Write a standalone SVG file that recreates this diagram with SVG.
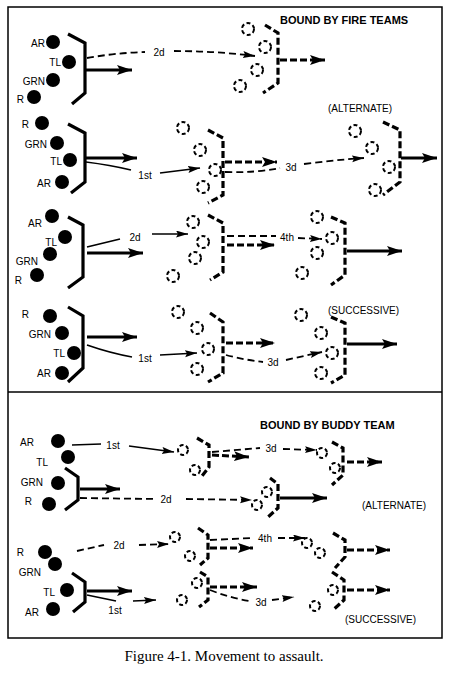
<svg xmlns="http://www.w3.org/2000/svg" width="450" height="682" viewBox="0 0 450 682">
<style>
text{font-family:"Liberation Sans",Arial,sans-serif;font-size:10px;fill:#000}
.lbl{text-anchor:end}
.c{text-anchor:middle}
.title{font-size:11px;font-weight:bold}
.cap{font-family:"Liberation Serif","Times New Roman",serif;font-size:15px;text-anchor:middle}
.dot{fill:#000}
.ghost{fill:none;stroke:#000;stroke-width:2;stroke-dasharray:4 2.5}
.br{fill:none;stroke:#000;stroke-width:3.2}
.brd{fill:none;stroke:#000;stroke-width:3.2;stroke-dasharray:7 3}
.ln{fill:none;stroke:#000;stroke-width:1.7}
.dl{fill:none;stroke:#000;stroke-width:1.8;stroke-dasharray:7 4}
.th{fill:none;stroke:#000;stroke-width:3}
.thd{fill:none;stroke:#000;stroke-width:3;stroke-dasharray:7 3}
.frame{fill:none;stroke:#000;stroke-width:1.5}
</style>
<defs>
<marker id="big" markerUnits="userSpaceOnUse" markerWidth="16" markerHeight="11" refX="15" refY="5" orient="auto"><path d="M0,0 L15,5 L0,10 L3,5 Z" fill="#000"/></marker>
<marker id="sm" markerUnits="userSpaceOnUse" markerWidth="13" markerHeight="9" refX="12" refY="3.5" orient="auto"><path d="M0,0 L12,3.5 L0,7 L2,3.5 Z" fill="#000"/></marker>
</defs>

<rect class="frame" x="8" y="7" width="434" height="631"/>
<line class="frame" x1="8" y1="392" x2="442" y2="392"/>
<text class="title" x="280" y="24">BOUND BY FIRE TEAMS</text>
<text x="328" y="112">(ALTERNATE)</text>
<text x="328" y="314">(SUCCESSIVE)</text>
<text class="title" x="260" y="429">BOUND BY BUDDY TEAM</text>
<text x="362" y="509">(ALTERNATE)</text>
<text x="345" y="623">(SUCCESSIVE)</text>
<text class="cap" x="224" y="661">Figure 4-1. Movement to assault.</text>

<!-- Fire teams row 1 -->
<g id="ft-r1-start">
<circle class="dot" cx="53" cy="42" r="7"/><text class="lbl" x="45" y="47">AR</text>
<circle class="dot" cx="69" cy="62" r="7"/><text class="lbl" x="61" y="66">TL</text>
<circle class="dot" cx="53" cy="80" r="7"/><text class="lbl" x="45" y="85">GRN</text>
<circle class="dot" cx="34" cy="97" r="7"/><text class="lbl" x="24" y="103">R</text>
<path class="br" d="M68,34 L85,43 L85,93 L72,104"/>
</g>
<g id="ft-r1-end">
<circle class="ghost" cx="248" cy="29" r="6"/><circle class="ghost" cx="265" cy="47" r="6"/>
<circle class="ghost" cx="257" cy="70" r="6"/><circle class="ghost" cx="240" cy="86" r="6"/>
<path class="brd" d="M265,25 L278,33 L278,83 L263,93"/>
</g>

<!-- Fire teams row 2 -->
<g id="ft-r2-start">
<circle class="dot" cx="42" cy="123" r="7"/><text class="lbl" x="29" y="128">R</text>
<circle class="dot" cx="57" cy="143" r="7"/><text class="lbl" x="47" y="148">GRN</text>
<circle class="dot" cx="70" cy="160" r="7"/><text class="lbl" x="62" y="165">TL</text>
<circle class="dot" cx="62" cy="182" r="7"/><text class="lbl" x="51" y="187">AR</text>
<path class="br" d="M68,124 L85,133 L85,182 L71,193"/>
</g>
<g id="ft-r2-mid">
<circle class="ghost" cx="183" cy="128" r="6"/><circle class="ghost" cx="200" cy="150" r="6"/>
<circle class="ghost" cx="215" cy="170" r="6"/><circle class="ghost" cx="203" cy="187" r="6"/>
<path class="brd" d="M208,130 L223,138 L223,195 L208,203"/>
</g>
<g id="ft-r2-end">
<circle class="ghost" cx="355" cy="131" r="6"/><circle class="ghost" cx="372" cy="148" r="6"/>
<circle class="ghost" cx="389" cy="167" r="6"/><circle class="ghost" cx="375" cy="190" r="6"/>
<path class="brd" d="M383,122 L400,130 L400,182 L383,195"/>
</g>

<!-- Fire teams row 3 -->
<g id="ft-r3-start">
<circle class="dot" cx="52" cy="216" r="7"/><text class="lbl" x="42" y="227">AR</text>
<circle class="dot" cx="65" cy="237" r="7"/><text class="lbl" x="57" y="246">TL</text>
<circle class="dot" cx="50" cy="254" r="7"/><text class="lbl" x="38" y="265">GRN</text>
<circle class="dot" cx="37" cy="275" r="7"/><text class="lbl" x="22" y="284">R</text>
<path class="br" d="M68,217 L83,225 L83,277 L68,288"/>
</g>
<g id="ft-r3-mid">
<circle class="ghost" cx="193" cy="222" r="6"/><circle class="ghost" cx="203" cy="242" r="6"/>
<circle class="ghost" cx="195" cy="258" r="6"/><circle class="ghost" cx="173" cy="276" r="6"/>
<path class="brd" d="M208,215 L223,223 L223,272 L210,280"/>
</g>
<g id="ft-r3-end">
<circle class="ghost" cx="317" cy="217" r="6"/><circle class="ghost" cx="332" cy="238" r="6"/>
<circle class="ghost" cx="317" cy="253" r="6"/><circle class="ghost" cx="302" cy="273" r="6"/>
<path class="brd" d="M331,217 L345,223 L345,275 L331,285"/>
</g>

<!-- Fire teams row 4 -->
<g id="ft-r4-start">
<circle class="dot" cx="50" cy="316" r="7"/><text class="lbl" x="29" y="318">R</text>
<circle class="dot" cx="62" cy="333" r="7"/><text class="lbl" x="51" y="338">GRN</text>
<circle class="dot" cx="74" cy="353" r="7"/><text class="lbl" x="65" y="357">TL</text>
<circle class="dot" cx="62" cy="373" r="7"/><text class="lbl" x="51" y="377">AR</text>
<path class="br" d="M68,307 L83,316 L83,368 L68,382"/>
</g>
<g id="ft-r4-mid">
<circle class="ghost" cx="178" cy="312" r="6"/><circle class="ghost" cx="197" cy="328" r="6"/>
<circle class="ghost" cx="208" cy="349" r="6"/><circle class="ghost" cx="197" cy="369" r="6"/>
<path class="brd" d="M210,313 L223,322 L223,373 L208,382"/>
</g>
<g id="ft-r4-end">
<circle class="ghost" cx="301" cy="315" r="6"/><circle class="ghost" cx="321" cy="333" r="6"/>
<circle class="ghost" cx="332" cy="353" r="6"/><circle class="ghost" cx="321" cy="373" r="6"/>
<path class="brd" d="M331,317 L345,323 L345,375 L331,383"/>
</g>

<!-- Buddy team row A -->
<g id="bt-a-start">
<circle class="dot" cx="58" cy="441" r="7"/><text class="lbl" x="34" y="446">AR</text>
<circle class="dot" cx="68" cy="457" r="7"/><text class="lbl" x="48" y="466">TL</text>
<circle class="dot" cx="58" cy="483" r="7"/><text class="lbl" x="43" y="486">GRN</text>
<circle class="dot" cx="49" cy="504" r="7"/><text class="lbl" x="32" y="505">R</text>
<path class="br" d="M65,468 L78,477 L78,500 L65,510"/>
</g>
<g id="bt-a-mid">
<circle class="ghost" cx="183" cy="450" r="5"/><circle class="ghost" cx="195" cy="470" r="5"/>
<path class="brd" d="M197,438 L209,445 L209,467 L202,476"/>
</g>
<g id="bt-a-mid2">
<circle class="ghost" cx="267" cy="492" r="5"/><circle class="ghost" cx="257" cy="505" r="5"/>
<path class="brd" d="M270,478 L278,484 L278,508 L268,517"/>
</g>
<g id="bt-a-end">
<circle class="ghost" cx="322" cy="453" r="5"/><circle class="ghost" cx="335" cy="468" r="5"/>
<path class="brd" d="M332,442 L343,448 L343,475 L332,485"/>
</g>

<!-- Buddy team row B -->
<g id="bt-b-start">
<circle class="dot" cx="45" cy="552" r="7"/><text class="lbl" x="24" y="556">R</text>
<circle class="dot" cx="55" cy="564" r="7"/><text class="lbl" x="41" y="576">GRN</text>
<circle class="dot" cx="67" cy="590" r="7"/><text class="lbl" x="55" y="596">TL</text>
<circle class="dot" cx="53" cy="609" r="7"/><text class="lbl" x="39" y="616">AR</text>
<path class="br" d="M72,573 L85,582 L85,602 L73,612"/>
</g>
<g id="bt-b-mid1">
<circle class="ghost" cx="175" cy="537" r="5"/><circle class="ghost" cx="190" cy="556" r="5"/>
<path class="brd" d="M198,528 L208,535 L208,558 L200,565"/>
</g>
<g id="bt-b-mid2">
<circle class="ghost" cx="197" cy="583" r="5"/><circle class="ghost" cx="182" cy="600" r="5"/>
<path class="brd" d="M200,572 L208,577 L208,600 L199,607"/>
</g>
<g id="bt-b-end1">
<circle class="ghost" cx="307" cy="543" r="5"/><circle class="ghost" cx="320" cy="553" r="5"/>
<path class="brd" d="M333,533 L345,540 L345,557 L335,568"/>
</g>
<g id="bt-b-end2">
<circle class="ghost" cx="333" cy="590" r="5"/><circle class="ghost" cx="315" cy="606" r="5"/>
<path class="brd" d="M332,572 L344,580 L344,600 L333,610"/>
</g>

<g id="connectors">
<!-- row 1 -->
<path class="th" d="M86,70 L132,70" marker-end="url(#big)"/>
<path class="dl" d="M87,58 Q115,53 145,52"/>
<text class="c" x="159" y="56">2d</text>
<path class="dl" d="M174,51 Q215,51 255,56" marker-end="url(#sm)"/>
<path class="thd" d="M280,60 L325,60" marker-end="url(#big)"/>
<!-- row 2 -->
<path class="th" d="M86,158 L137,158" marker-end="url(#big)"/>
<path class="ln" d="M86,162 Q110,165 131,170"/>
<text class="c" x="145" y="179">1st</text>
<path class="ln" d="M160,173 L200,168" marker-end="url(#sm)"/>
<path class="thd" d="M225,162 L277,162" marker-end="url(#big)"/>
<path class="dl" d="M225,172 Q255,173 280,168"/>
<text class="c" x="291" y="171">3d</text>
<path class="dl" d="M304,164 Q335,160 364,158" marker-end="url(#sm)"/>
<path class="th" d="M401,158 L437,158" marker-end="url(#big)"/>
<!-- row 3 -->
<path class="ln" d="M87,247 L120,239"/>
<text class="c" x="135" y="241">2d</text>
<path class="ln" d="M152,234 L188,234" marker-end="url(#sm)"/>
<path class="th" d="M87,253 L143,253" marker-end="url(#big)"/>
<path class="dl" d="M227,236 L276,236"/>
<text class="c" x="287" y="241">4th</text>
<path class="dl" d="M298,238 L322,239" stroke-dasharray="2 3" marker-end="url(#sm)"/>
<path class="thd" d="M227,245 L275,245" marker-end="url(#big)"/>
<path class="th" d="M347,251 L402,251" marker-end="url(#big)"/>
<!-- row 4 -->
<path class="th" d="M87,337 L137,337" marker-end="url(#big)"/>
<path class="ln" d="M87,345 Q110,353 132,357"/>
<text class="c" x="145" y="362">1st</text>
<path class="ln" d="M160,355 L197,353" marker-end="url(#sm)"/>
<path class="thd" d="M226,343 L275,343" marker-end="url(#big)"/>
<path class="dl" d="M226,355 Q245,360 263,362"/>
<text class="c" x="273" y="366">3d</text>
<path class="dl" d="M286,360 L322,352" marker-end="url(#sm)"/>
<path class="th" d="M347,344 L397,344" marker-end="url(#big)"/>
<!-- buddy row A -->
<path class="ln" d="M72,445 L101,444"/>
<text class="c" x="113" y="449">1st</text>
<path class="ln" d="M129,446 L174,452" marker-end="url(#sm)"/>
<path class="th" d="M80,489 L120,489" marker-end="url(#big)"/>
<path class="dl" d="M80,498 L155,499"/>
<text class="c" x="166" y="503">2d</text>
<path class="dl" d="M186,499 L252,500" marker-end="url(#sm)"/>
<path class="thd" d="M212,455 L249,457" marker-end="url(#big)"/>
<path class="dl" d="M212,452 L260,448"/>
<text class="c" x="271" y="452">3d</text>
<path class="dl" d="M283,449 L317,450" marker-end="url(#sm)"/>
<path class="th" d="M280,498 L327,498" marker-end="url(#big)"/>
<path class="thd" d="M347,462 L382,462" marker-end="url(#big)"/>
<!-- buddy row B -->
<path class="dl" d="M77,551 L104,545"/>
<text class="c" x="119" y="549">2d</text>
<path class="dl" d="M139,545 L169,544" marker-end="url(#sm)"/>
<path class="th" d="M87,591 L132,591" marker-end="url(#big)"/>
<path class="ln" d="M87,595 L116,601"/>
<text class="c" x="115" y="614">1st</text>
<path class="ln" d="M133,601 L156,600" marker-end="url(#sm)"/>
<path class="thd" d="M210,548 L253,548" marker-end="url(#big)"/>
<path class="dl" d="M210,540 L253,538"/>
<text class="c" x="265" y="542">4th</text>
<path class="dl" d="M278,538 L305,538" marker-end="url(#sm)"/>
<path class="thd" d="M210,587 L257,587" marker-end="url(#big)"/>
<path class="dl" d="M210,590 Q230,598 250,601"/>
<text class="c" x="261" y="606">3d</text>
<path class="dl" d="M272,600 L294,597" marker-end="url(#sm)"/>
<path class="thd" d="M347,550 L390,550" marker-end="url(#big)"/>
<path class="thd" d="M347,590 L390,590" marker-end="url(#big)"/>
</g>
</svg>
